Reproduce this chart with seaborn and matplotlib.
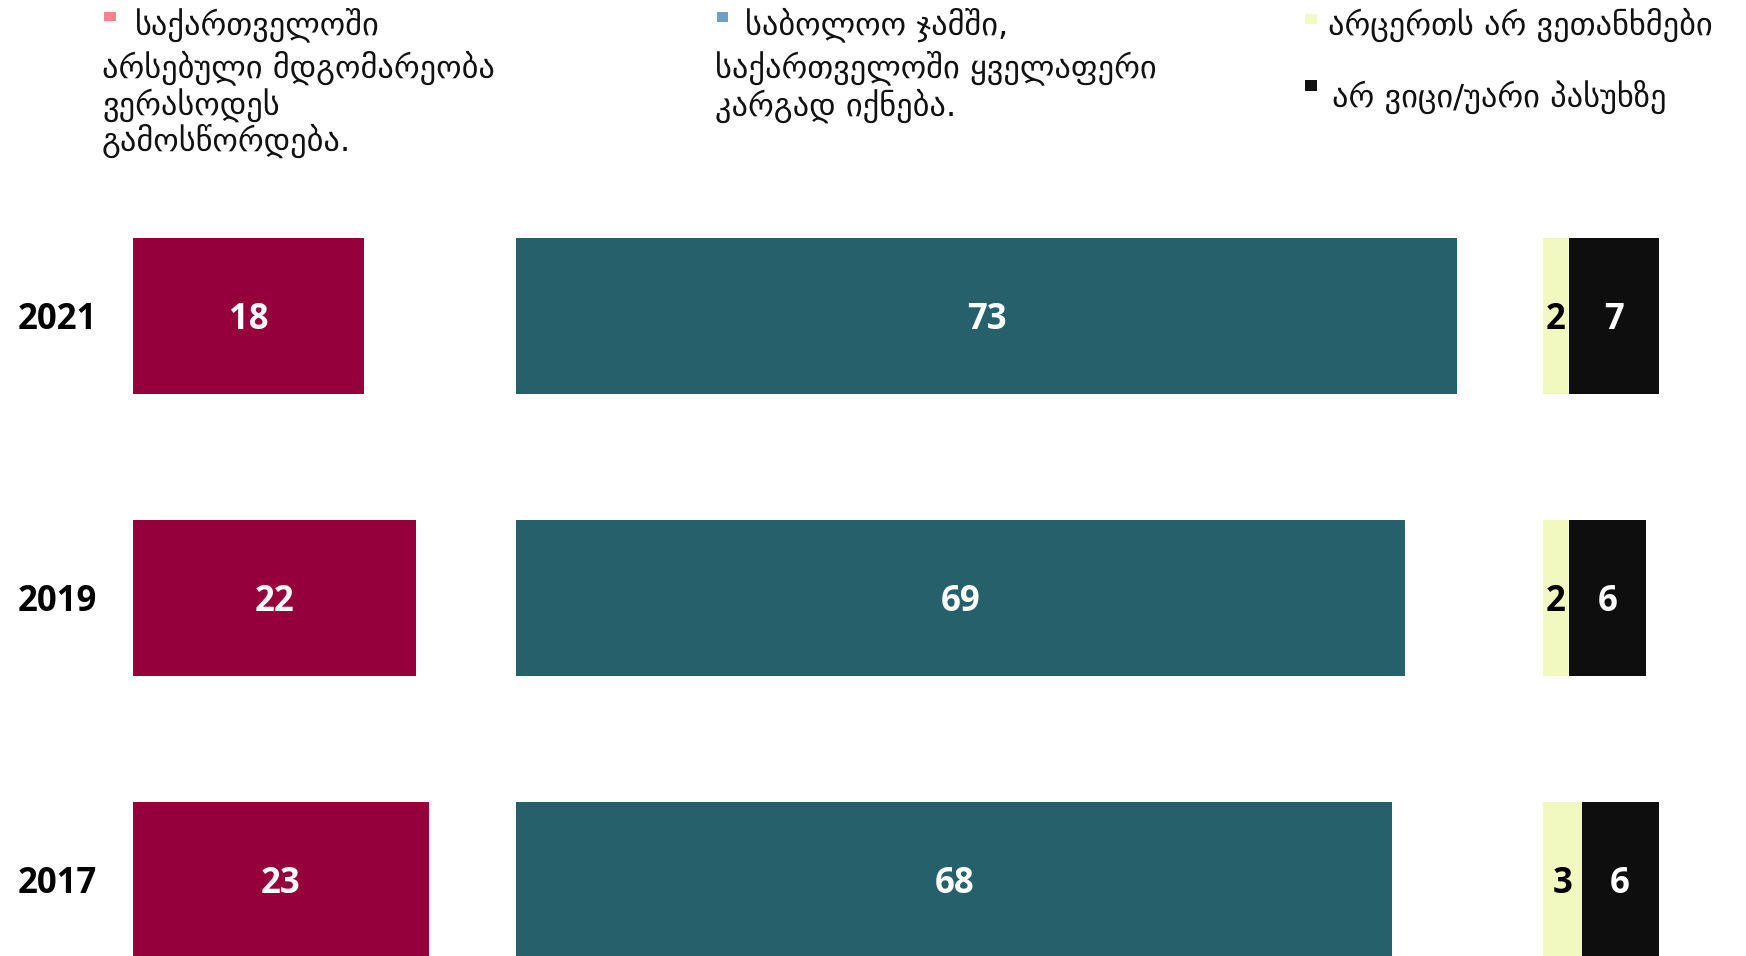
import matplotlib
matplotlib.use("Agg")
import matplotlib.pyplot as plt
from matplotlib.patches import Rectangle
import numpy as np
import pandas as pd
import seaborn as sns

# ---- data -------------------------------------------------------------
years = ["2021", "2019", "2017"]
never_fixed = [18, 22, 23]          # situation will never be fixed
all_fine = [73, 69, 68]             # eventually everything will be fine
agree_none = [2, 2, 3]              # agree with neither
dont_know = [7, 6, 6]               # don't know / refused

legend_labels = [
    ["საქართველოში", "არსებული მდგომარეობა", "ვერასოდეს", "გამოსწორდება."],
    ["საბოლოო ჯამში,", "საქართველოში ყველაფერი", "კარგად იქნება."],
    ["არცერთს არ ვეთანხმები"],
    ["არ ვიცი/უარი პასუხზე"],
]

# ---- style ------------------------------------------------------------
bar_colors = ["#95003a", "#26616b", "#f2f9c0", "#0e0e0e"]
legend_colors = ["#f4838d", "#6f9fc4", "#f2f9c3", "#111111"]

sns.set_theme(style="white")
plt.rcParams["font.family"] = ["Open Sans", "DejaVu Sans"]

W, H = 1746, 956
fig = plt.figure(figsize=(W / 100, H / 100), dpi=100)
ax = fig.add_axes([0, 0, 1, 1])

df = pd.DataFrame({
    "year": years,
    "never": never_fixed,
    "fine": all_fine,
    "none": agree_none,
    "dk": dont_know,
})

# group starting points along the value axis
off_never = 0
off_fine = 29.8
off_rest = 109.5

bar_h = 0.553
series = [
    ("never", np.full(len(years), off_never, dtype=float), bar_colors[0]),
    ("fine", np.full(len(years), off_fine, dtype=float), bar_colors[1]),
    ("none", np.full(len(years), off_rest, dtype=float), bar_colors[2]),
    ("dk", off_rest + np.array(agree_none, dtype=float), bar_colors[3]),
]

for col, left, color in series:
    sns.barplot(data=df, x=col, y="year", order=years, orient="h",
                color=color, saturation=1, width=bar_h, left=left,
                linewidth=0, errorbar=None, ax=ax)

# value labels, centred in each segment (baseline shifted by half the cap height)
num_font = dict(family=["Open Sans", "DejaVu Sans"], fontweight="bold", fontsize=25)
cap_shift = 0.046
for col, left, color in series:
    vals = df[col].to_numpy()
    txt_color = "black" if col == "none" else "white"
    for i, v in enumerate(vals):
        ax.text(left[i] + v / 2, i + cap_shift, f"{v}", ha="center",
                va="baseline", color=txt_color, **num_font)

# year labels
for i, y in enumerate(years):
    ax.text(-2.75, i + cap_shift, y, ha="right", va="baseline", color="black",
            **num_font)

# axis scaling: 12.88 px per unit, first group starting at x=132.5 px,
# rows 282 px apart with the first centred at y=316 px
ppu = 12.88
ax.set_xlim(-132.5 / ppu, (W - 132.5) / ppu)
ax.set_ylim((H - 316) / 282, -316 / 282)
ax.set_axis_off()

# ---- legend -----------------------------------------------------------
def fx(x):
    return x / W

def fy(y):
    return 1 - y / H

leg_font = dict(family=["DejaVu Sans"], fontsize=23.3, color="#111111", va="baseline")

def marker(x0, y0, x1, y1, color):
    fig.add_artist(Rectangle((fx(x0), fy(y1)), fx(x1) - fx(x0), (y1 - y0) / H,
                             transform=fig.transFigure, facecolor=color,
                             edgecolor="none"))

marker(104, 12, 116, 21, legend_colors[0])
marker(717, 12, 728, 22, legend_colors[1])
marker(1305, 14, 1317, 24, legend_colors[2])
marker(1305, 80, 1317, 91, legend_colors[3])

left_lines = legend_labels[0]
fig.text(fx(135), fy(34), left_lines[0], **leg_font)
for txt, yb in zip(left_lines[1:], [77, 116, 151]):
    fig.text(fx(102), fy(yb), txt, **leg_font)

mid_lines = legend_labels[1]
fig.text(fx(745), fy(34), mid_lines[0], **leg_font)
for txt, yb in zip(mid_lines[1:], [77, 116]):
    fig.text(fx(715), fy(yb), txt, **leg_font)

fig.text(fx(1328), fy(35), legend_labels[2][0], **leg_font)
fig.text(fx(1332), fy(107), legend_labels[3][0], **leg_font)

fig.savefig("out.png", dpi=100, facecolor="white")
